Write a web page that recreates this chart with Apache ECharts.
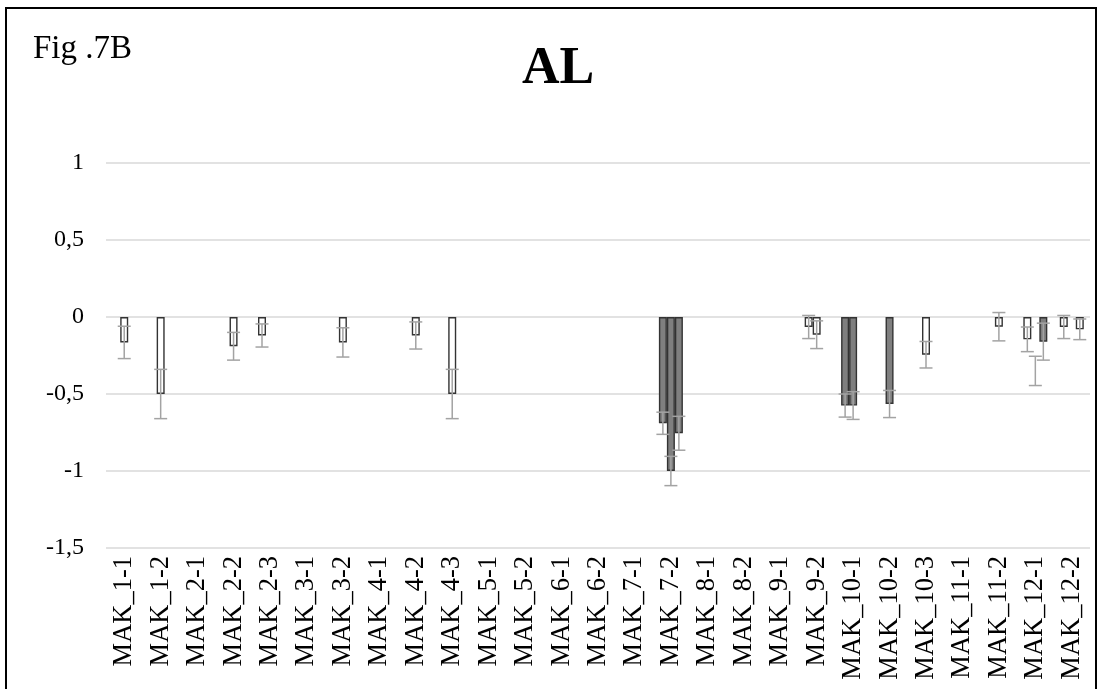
<!DOCTYPE html>
<html>
<head>
<meta charset="utf-8">
<script src="https://cdn.jsdelivr.net/npm/echarts@6/dist/echarts.min.js"></script>
<style>
  html, body { margin: 0; padding: 0; background: #fff; }
  #chart { width: 1102px; height: 689px; }
</style>
</head>
<body>
<div id="chart"></div>
<script>
const categories = ['MAK_1-1','MAK_1-2','MAK_2-1','MAK_2-2','MAK_2-3','MAK_3-1','MAK_3-2','MAK_4-1','MAK_4-2','MAK_4-3',
  'MAK_5-1','MAK_5-2','MAK_6-1','MAK_6-2','MAK_7-1','MAK_7-2','MAK_8-1','MAK_8-2','MAK_9-1','MAK_9-2',
  'MAK_10-1','MAK_10-2','MAK_10-3','MAK_11-1','MAK_11-2','MAK_12-1','MAK_12-2'];

// left bar of each group
const valuesA = [null,null,null,null,-0.12,null,null,null,null,null,null,null,null,null,null,-0.69,null,null,null,-0.065,-0.575,null,null,null,null,-0.145,-0.065];
const errorsA = [null,null,null,null,0.075,null,null,null,null,null,null,null,null,null,null,0.072,null,null,null,0.075,0.075,null,null,null,null,0.08,0.075];
const kindsA  = [null,null,null,null,'w',null,null,null,null,null,null,null,null,null,null,'d',null,null,null,'w','d',null,null,null,null,'w','w'];

// middle bar of each group
const valuesB = [-0.165,-0.5,null,-0.19,null,null,-0.165,null,-0.12,-0.5,null,null,null,null,null,-1.0,null,null,null,-0.115,-0.575,-0.565,-0.245,null,-0.063,-0.35,null];
const errorsB = [0.105,0.16,null,0.09,null,null,0.095,null,0.088,0.16,null,null,null,null,null,0.095,null,null,null,0.09,0.09,0.088,0.086,null,0.092,0.095,null];
const kindsB  = ['w','w',null,'w',null,null,'w',null,'w','w',null,null,null,null,null,'d',null,null,null,'w','d','d','w',null,'w','h',null];

// right bar of each group
const valuesC = [null,null,null,null,null,null,null,null,null,null,null,null,null,null,null,-0.755,null,null,null,null,null,null,null,null,null,-0.16,-0.08];
const errorsC = [null,null,null,null,null,null,null,null,null,null,null,null,null,null,null,0.11,null,null,null,null,null,null,null,null,null,0.12,0.067];
const kindsC  = [null,null,null,null,null,null,null,null,null,null,null,null,null,null,null,'d',null,null,null,null,null,null,null,null,null,'d','w'];

const BAR_W = 8;
const SERIF = "'Liberation Serif', 'Times New Roman', serif";
const styles = {
  w: { color: '#ffffff', borderColor: '#333333', borderWidth: 1.4 },
  d: { color: '#7f7f7f', borderColor: '#333333', borderWidth: 1.4 },
  h: { color: 'rgba(255,255,255,0)', borderWidth: 0 }
};

function barData(vals, kinds) {
  return vals.map((v, i) => v === null ? null : { value: v, itemStyle: styles[kinds[i]] });
}
function errData(vals, errs) {
  const out = [];
  vals.forEach((v, i) => { if (v !== null) out.push([i, v - errs[i], v + errs[i]]); });
  return out;
}
function errRenderer(slot) {
  return function (params, api) {
    const i = api.value(0);
    const lo = api.coord([i, api.value(1)]);
    const hi = api.coord([i, api.value(2)]);
    const x = lo[0] + slot * BAR_W;
    const cap = 6.5;
    const st = { stroke: '#a3a3a3', lineWidth: 1.5 };
    return {
      type: 'group',
      children: [
        { type: 'line', shape: { x1: x, y1: lo[1], x2: x, y2: hi[1] }, style: st },
        { type: 'line', shape: { x1: x - cap, y1: lo[1], x2: x + cap, y2: lo[1] }, style: st },
        { type: 'line', shape: { x1: x - cap, y1: hi[1], x2: x + cap, y2: hi[1] }, style: st }
      ]
    };
  };
}

const chart = echarts.init(document.getElementById('chart'), null, { renderer: 'canvas' });
const barCommon = { type: 'bar', barWidth: BAR_W, barGap: '0%', animation: false, z: 2 };
const errCommon = { type: 'custom', animation: false, z: 5, encode: { x: 0, y: [1, 2] } };

chart.setOption({
  backgroundColor: '#ffffff',
  animation: false,
  title: [
    { text: 'Fig .7B', left: 28, top: 28,
      textStyle: { fontFamily: SERIF, fontSize: 33, fontWeight: 'normal', color: '#000' } },
    { text: 'AL', left: 517, top: 39,
      textStyle: { fontFamily: SERIF, fontSize: 52, fontWeight: 'bold', color: '#000' } }
  ],
  graphic: [
    { type: 'rect', shape: { x: 6, y: 8, width: 1090, height: 700 },
      style: { fill: 'none', stroke: '#000', lineWidth: 2 }, silent: true }
  ],
  grid: { left: 106, right: 12, top: 163, bottom: 141 },
  xAxis: {
    type: 'category',
    data: categories,
    axisLine: { show: false, onZero: false },
    axisTick: { show: false },
    axisLabel: { interval: 0, rotate: 90, margin: 8, fontFamily: SERIF, fontSize: 26.5, color: '#000' }
  },
  yAxis: {
    type: 'value',
    min: -1.5, max: 1, interval: 0.5,
    axisLine: { show: false },
    axisTick: { show: false },
    splitLine: { show: true, lineStyle: { color: '#d9d9d9', width: 1.5 } },
    axisLabel: { margin: 22, fontFamily: SERIF, fontSize: 24, color: '#000',
      formatter: v => String(v).replace('.', ',') }
  },
  series: [
    Object.assign({ name: 'A', data: barData(valuesA, kindsA) }, barCommon),
    Object.assign({ name: 'B', data: barData(valuesB, kindsB) }, barCommon),
    Object.assign({ name: 'C', data: barData(valuesC, kindsC) }, barCommon),
    Object.assign({ name: 'errA', data: errData(valuesA, errorsA), renderItem: errRenderer(-1) }, errCommon),
    Object.assign({ name: 'errB', data: errData(valuesB, errorsB), renderItem: errRenderer(0) }, errCommon),
    Object.assign({ name: 'errC', data: errData(valuesC, errorsC), renderItem: errRenderer(1) }, errCommon)
  ]
});
</script>
</body>
</html>
